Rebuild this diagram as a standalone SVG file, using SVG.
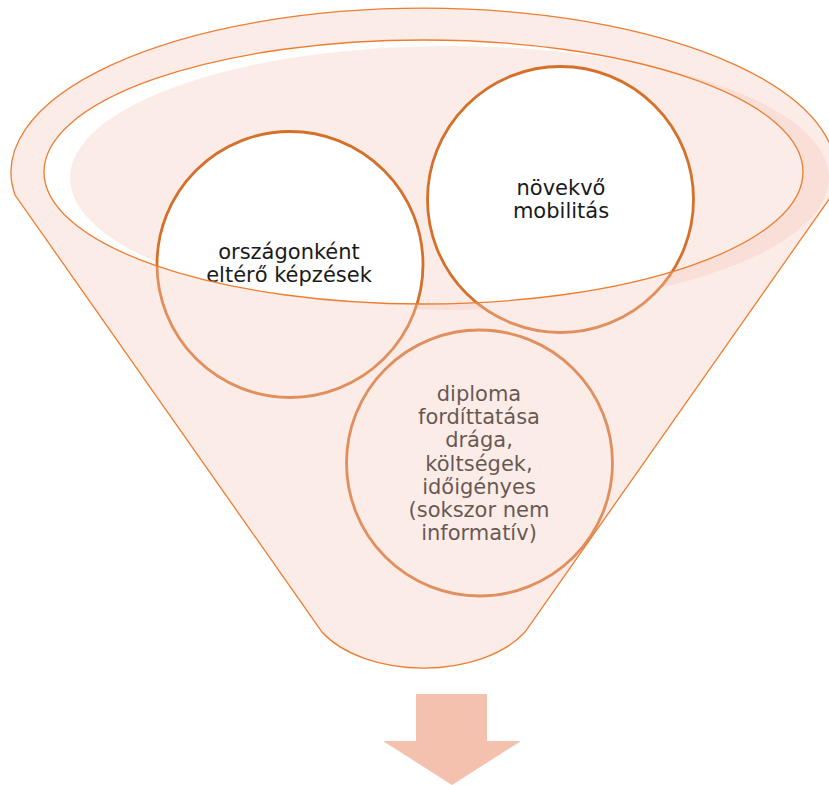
<svg xmlns="http://www.w3.org/2000/svg" width="829" height="785" viewBox="0 0 829 785">
<style>
.circ{fill:#ffffff;stroke:#D5702B;stroke-width:2.8}
.lbl{font-family:"DejaVu Sans","Verdana",sans-serif;font-size:21px;fill:#1a1a1a;text-anchor:middle}
.funnel{fill:rgb(245,200,185);fill-opacity:0.35;fill-rule:evenodd;stroke:#ED7D31;stroke-width:1.3}
</style>
<rect width="829" height="785" fill="#ffffff"/>
<g id="inner-ellipse">
<ellipse cx="449.5" cy="178" rx="379.5" ry="132" fill="#FBECE7"/>
</g>
<g id="node-orszagonkent">
<circle class="circ" cx="290" cy="264.5" r="133"/>
<text class="lbl" x="289" y="259"><tspan x="289">országonként</tspan><tspan x="289" dy="23.2">eltérő képzések</tspan></text>
</g>
<g id="node-novekvo">
<circle class="circ" cx="560.5" cy="199.5" r="133"/>
<text class="lbl" x="561" y="195"><tspan x="561">növekvő</tspan><tspan x="561" dy="23.2">mobilitás</tspan></text>
</g>
<g id="node-diploma">
<circle class="circ" cx="479.5" cy="463" r="133"/>
<text class="lbl" x="479" y="401"><tspan x="479">diploma</tspan><tspan x="479" dy="23.2">fordíttatása</tspan><tspan x="479" dy="23.2">drága,</tspan><tspan x="479" dy="23.2">költségek,</tspan><tspan x="479" dy="23.2">időigényes</tspan><tspan x="479" dy="23.2">(sokszor nem</tspan><tspan x="479" dy="23.2">informatív)</tspan></text>
</g>
<g id="funnel">
<path class="funnel" d="M15,195 A412.5,164 0 1 1 832,195 L525,632 A115,68 0 0 1 322,632 Z M44,172 A379.5,132 0 1 0 803,172 A379.5,132 0 1 0 44,172 Z"/>
</g>
<g id="arrow">
<polygon points="416,694 487,694 487,741 521,741 452,785 383,741 416,741" fill="#F4C1AE"/>
</g>
</svg>
